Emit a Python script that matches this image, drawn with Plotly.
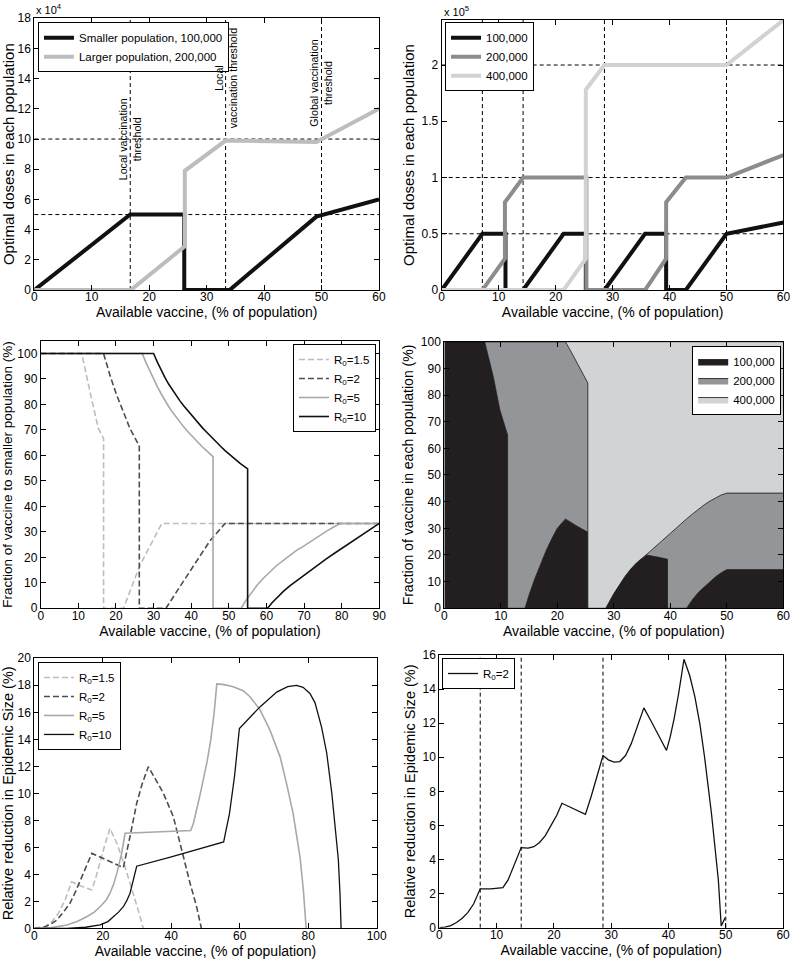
import plotly.graph_objects as go

FONT = "Liberation Sans, Arial, Helvetica, sans-serif"

# ---------------- Panel A: two populations, optimal doses ----------------
a_small_x = [0, 16.7, 26.1, 26.1, 34.0, 49.1, 60]
a_small_y = [0, 50000, 50000, 0, 0, 48600, 60000]
a_large_x = [0, 16.8, 26.2, 26.2, 33.3, 49.1, 60]
a_large_y = [0, 0, 29000, 79000, 99000, 98000, 120000]
a_vlines = [16.7, 33.3, 50]
a_hlines = [50000, 100000]
a_yticks = [0, 20000, 40000, 60000, 80000, 100000, 120000, 140000, 160000, 180000]
a_yticktext = ["0", "2", "4", "6", "8", "10", "12", "14", "16", "18"]
a_notes_x = [16.7, 33.3, 50]
a_notes_y = [100000, 140000, 137000]
a_notes_text = ["Local vaccination<br>threshold", "Local<br>vaccination threshold",
                "Global vaccination<br>threshold"]

# ---------------- Panel B: three populations, optimal doses ----------------
b_100_x = [0, 7.14, 11.2, 11.2, 14.29, 21.4, 25.3, 25.3, 28.57, 35.7, 39.4, 39.4, 42.86, 50, 60]
b_100_y = [0, 50000, 50000, 0, 0, 50000, 50000, 0, 0, 50000, 50000, 0, 0, 50000, 60000]
b_200_x = [0, 7.14, 11.1, 11.1, 14.29, 25.4, 25.4, 35.7, 39.4, 39.4, 42.86, 50, 60]
b_200_y = [0, 0, 28000, 78000, 100000, 100000, 0, 0, 28000, 78000, 100000, 100000, 120000]
b_400_x = [0, 21.4, 25.3, 25.3, 28.57, 50, 60]
b_400_y = [0, 0, 28000, 178000, 200000, 200000, 240000]
b_vlines = [7.14, 14.29, 28.57, 50]
b_hlines = [50000, 100000, 200000]
b_yticks = [0, 50000, 100000, 150000, 200000]
b_yticktext = ["0", "0.5", "1", "1.5", "2"]

# ---------------- Panel C: fraction to smaller population ----------------
c_r15_x = [0, 10.9, 13.1, 15.3, 16.7, 16.7, 22.0, 26.4, 32.2, 90]
c_r15_y = [100, 100, 85, 70.6, 66.7, 0, 0, 17, 33.3, 33.3]
c_r2_x = [0, 16.7, 18.5, 20.2, 22.0, 23.7, 25.9, 26.2, 26.2, 33.3, 37, 41, 45, 49, 90]
c_r2_y = [100, 100, 91, 83.6, 77, 70.6, 64.5, 64, 0, 0, 8.5, 17.5, 26.5, 33.3, 33.3]
c_r5_x = [0, 27, 28, 29, 30, 31, 32, 33, 34, 35, 36, 37, 38, 39, 40, 41, 42, 43, 44, 45.8, 45.8,
          53.3, 54.5, 56, 57.5, 59.2, 61, 62.5, 64.5, 66.3, 68, 70, 72.5, 74, 76, 78, 79.6, 90]
c_r5_y = [100, 100, 96.3, 93, 89.8, 87, 84.2, 81.5, 79.2, 77, 75, 73, 71.2, 69.5, 67.9, 66.3, 64.8,
          63.3, 62, 59.5, 0, 0, 3, 6, 9, 11.8, 14.4, 16.5, 18.8, 20.9, 22.7, 24.5, 27, 28.4, 30.3, 32, 33.3, 33.3]
c_r10_x = [0, 30, 31, 32, 33, 34, 35, 36, 37, 38, 39, 40, 41, 42, 43, 44, 45, 46, 47, 48, 49, 50, 51, 52,
           53, 54, 55, 55, 60.3, 61.5, 63, 64.5, 66.3, 68, 70, 72.5, 74, 76, 78, 80, 82.5, 84.9, 87.5, 90]
c_r10_y = [100, 100, 96.6, 93.5, 90.6, 88, 85.7, 83.5, 81.4, 79.5, 77.7, 76, 74.2, 72.5, 70.8, 69.3,
           67.7, 66.2, 64.7, 63.3, 61.9, 60.6, 59.3, 58, 56.9, 55.8, 54.7, 0, 0, 2.2, 4.5, 6.6, 8.9, 10.8,
           13, 15.8, 17.3, 19.5, 21.5, 23.5, 26, 28.3, 30.8, 33.3]

# ---------------- Panel D: fraction of vaccine in each population ----------------
d_x = [0, 7.14, 8.65, 9.83, 11.2, 11.2, 14.29, 15, 16, 17, 18, 19, 20, 21.43, 22.5, 23.5, 24.5, 25.4,
       25.4, 28.57, 30, 31, 32, 33, 34, 35.7, 37, 38, 39.5, 39.5, 41, 42.86, 44, 45, 46, 47, 48, 49, 50, 60]
d_f100 = [100, 100, 87, 74.4, 65, 0, 0, 5, 11, 16.5, 21.5, 26, 30, 33.5, 32, 30.8, 29.6, 28.5,
          0, 0, 5.5, 9, 12, 14.7, 17, 20, 19.6, 19.1, 18.4, 0, 0, 0, 3.5, 6, 8, 10, 11.8, 13.3, 14.5, 14.5]
d_f200 = [0, 0, 13, 25.6, 35, 100, 100, 95, 89, 83.5, 78.5, 74, 70, 66.5, 64, 61.2, 58.4, 56,
          0, 0, 0, 0, 0, 0, 0, 0, 2.9, 5.4, 8.9, 27.3, 30.2, 33.5, 32, 31.2, 30.8, 30.2, 29.7, 29.2, 28.7, 28.7]
d_f400 = [0, 0, 0, 0, 0, 0, 0, 0, 0, 0, 0, 0, 0, 0, 4, 8, 12, 15.5,
          100, 100, 94.5, 91, 88, 85.3, 83, 80, 77.5, 75.5, 72.7, 72.7, 69.8, 66.5, 64.5, 62.8, 61.2, 59.8, 58.5, 57.5, 56.8, 56.8]

# ---------------- Panel E: relative reduction, two populations ----------------
e_r15_x = [0, 3, 5, 7, 9, 10.9, 13, 15, 16.8, 18, 19.2, 20.5, 22.1, 24.1, 26.5, 28.9, 30.9, 31.8]
e_r15_y = [0, 0.1, 0.45, 1.1, 2.1, 3.45, 3.2, 3.0, 2.84, 3.8, 5.0, 6.1, 7.4, 6.3, 4.56, 2.6, 0.86, 0]
e_r2_x = [0, 3, 5, 6.5, 8.5, 10.4, 12, 13.8, 15.3, 16.8, 21.1, 26.0, 27.95, 29.9, 31.5, 33.3, 35.5,
          37.7, 40.6, 43.0, 45.5, 47.4, 48.4, 48.8]
e_r2_y = [0, 0.1, 0.35, 0.6, 1.2, 1.85, 2.7, 3.8, 4.7, 5.55, 5.06, 4.5, 6.8, 9.26, 10.7, 11.97, 11.0,
          10.0, 8.27, 5.8, 3.33, 1.6, 0.5, 0]
e_r5_x = [0, 5, 9.5, 12.5, 15.3, 17.5, 19.2, 21, 22.1, 23.2, 24.1, 25.5, 26.5, 35, 45.7, 46.5, 47.5,
          48.5, 49.5, 50.5, 51.5, 52.5, 53.3, 55.5, 58.1, 61, 63.0, 65.9, 68.8, 71.8, 73.7, 75.6, 77.6, 78.6, 79.4]
e_r5_y = [0, 0.05, 0.25, 0.5, 0.86, 1.2, 1.6, 2.1, 2.6, 3.3, 4.07, 5.55, 7.04, 7.15, 7.25, 7.8, 8.8,
          10, 11.2, 12.4, 13.9, 15.9, 18.1, 18.05, 17.9, 17.6, 17.15, 16.2, 14.7, 12.7, 10.7, 8.5, 5.3, 2.8, 0]
e_r10_x = [0, 9.5, 15, 19.2, 21.5, 23.1, 24.6, 26, 27, 27.95, 28.7, 29.4, 29.9, 40, 48.4, 55.3, 57,
           58.5, 59.9, 65.9, 70.8, 74, 76.6, 78.5, 80.5, 82.0, 83.9, 85.4, 86.9, 87.8, 88.8, 89.3, 89.6]
e_r10_y = [0, 0, 0.08, 0.25, 0.5, 0.86, 1.2, 1.6, 2.05, 2.6, 3.3, 4.07, 4.6, 5.3, 5.9, 6.4, 8.5,
           11.3, 14.8, 16.4, 17.5, 17.9, 18.0, 17.85, 17.4, 16.7, 14.9, 13.0, 10.0, 7.5, 5.1, 2.5, 0]

# ---------------- Panel F: relative reduction, three populations ----------------
f_x = [0, 1, 2, 3, 4, 5, 6, 7.14, 9, 11.1, 12, 13, 14.29, 15.5, 16.5, 17.5, 18.5, 19.5, 20.5, 21.4,
       25.5, 26.5, 27.5, 28.57, 29.5, 30.5, 31.5, 32.5, 33.5, 34.6, 35.7, 37, 38.3, 39.65, 40.3, 41.0,
       41.8, 42.7, 43.7, 44.6, 45.5, 46.3, 47.5, 48.7, 49.2, 49.5, 49.9]
f_y = [0, 0.03, 0.12, 0.3, 0.55, 0.9, 1.4, 2.28, 2.28, 2.35, 2.8, 3.6, 4.7, 4.67, 4.75, 5.0, 5.4, 6.0,
       6.6, 7.3, 6.65, 7.7, 8.8, 10.1, 9.85, 9.72, 9.75, 10.1, 10.8, 11.8, 12.9, 12.1, 11.3, 10.4, 11.2,
       12.3, 13.8, 15.75, 14.8, 13.56, 11.9, 10.0, 6.7, 2.8, 0.1, 0.3, 0.6]
f_vlines = [7.14, 14.29, 28.57, 50]

XTITLE = "Available vaccine, (% of population)"

BLACK = "#111111"
LGRAY = "#bdbdbd"
MGRAY = "#8c8c8c"
VLGRAY = "#d2d2d2"
DGRAY = "#4d4d4d"
SGRAY = "#a8a8a8"

fig = go.Figure()

# Panel A
fig.add_trace(go.Scatter(x=a_small_x, y=a_small_y, mode="lines", name="Smaller population, 100,000",
                         line=dict(color=BLACK, width=4), xaxis="x", yaxis="y", legend="legend"))
fig.add_trace(go.Scatter(x=a_large_x, y=a_large_y, mode="lines", name="Larger population, 200,000",
                         line=dict(color=LGRAY, width=4), xaxis="x", yaxis="y", legend="legend"))
# Panel B
fig.add_trace(go.Scatter(x=b_100_x, y=b_100_y, mode="lines", name="100,000",
                         line=dict(color=BLACK, width=4), xaxis="x2", yaxis="y2", legend="legend2"))
fig.add_trace(go.Scatter(x=b_200_x, y=b_200_y, mode="lines", name="200,000",
                         line=dict(color=MGRAY, width=4), xaxis="x2", yaxis="y2", legend="legend2"))
fig.add_trace(go.Scatter(x=b_400_x, y=b_400_y, mode="lines", name="400,000",
                         line=dict(color=VLGRAY, width=4), xaxis="x2", yaxis="y2", legend="legend2"))
# Panel C
DASH = "6px,3px"
fig.add_trace(go.Scatter(x=c_r15_x, y=c_r15_y, mode="lines", name="R<sub>0</sub>=1.5",
                         line=dict(color=LGRAY, width=1.6, dash=DASH), xaxis="x3", yaxis="y3", legend="legend3"))
fig.add_trace(go.Scatter(x=c_r2_x, y=c_r2_y, mode="lines", name="R<sub>0</sub>=2",
                         line=dict(color=DGRAY, width=1.6, dash=DASH), xaxis="x3", yaxis="y3", legend="legend3"))
fig.add_trace(go.Scatter(x=c_r5_x, y=c_r5_y, mode="lines", name="R<sub>0</sub>=5",
                         line=dict(color=SGRAY, width=1.6), xaxis="x3", yaxis="y3", legend="legend3"))
fig.add_trace(go.Scatter(x=c_r10_x, y=c_r10_y, mode="lines", name="R<sub>0</sub>=10",
                         line=dict(color=BLACK, width=1.6), xaxis="x3", yaxis="y3", legend="legend3"))
# Panel D (stacked areas)
d_c1 = list(d_f100)
d_c2 = [a + b for a, b in zip(d_f100, d_f200)]
d_c3 = [a + b + c for a, b, c in zip(d_f100, d_f200, d_f400)]
fig.add_trace(go.Scatter(x=d_x, y=d_c1, mode="lines", name="100,000", fill="tozeroy",
                         fillcolor="#231f20", line=dict(color="#111111", width=0.8),
                         xaxis="x4", yaxis="y4", legend="legend4"))
fig.add_trace(go.Scatter(x=d_x, y=d_c2, mode="lines", name="200,000", fill="tonexty",
                         fillcolor="#939598", line=dict(color="#111111", width=0.8),
                         xaxis="x4", yaxis="y4", legend="legend4"))
fig.add_trace(go.Scatter(x=d_x, y=d_c3, mode="lines", name="400,000", fill="tonexty",
                         fillcolor="#d1d3d4", line=dict(color="#111111", width=0.8),
                         xaxis="x4", yaxis="y4", legend="legend4"))
# Panel E
fig.add_trace(go.Scatter(x=e_r15_x, y=e_r15_y, mode="lines", name="R<sub>0</sub>=1.5",
                         line=dict(color=LGRAY, width=1.6, dash=DASH), xaxis="x5", yaxis="y5", legend="legend5"))
fig.add_trace(go.Scatter(x=e_r2_x, y=e_r2_y, mode="lines", name="R<sub>0</sub>=2",
                         line=dict(color=DGRAY, width=1.6, dash=DASH), xaxis="x5", yaxis="y5", legend="legend5"))
fig.add_trace(go.Scatter(x=e_r5_x, y=e_r5_y, mode="lines", name="R<sub>0</sub>=5",
                         line=dict(color=SGRAY, width=1.6), xaxis="x5", yaxis="y5", legend="legend5"))
fig.add_trace(go.Scatter(x=e_r10_x, y=e_r10_y, mode="lines", name="R<sub>0</sub>=10",
                         line=dict(color=BLACK, width=1.3), xaxis="x5", yaxis="y5", legend="legend5"))
# Panel F
fig.add_trace(go.Scatter(x=f_x, y=f_y, mode="lines", name="R<sub>0</sub>=2",
                         line=dict(color=BLACK, width=1.3), xaxis="x6", yaxis="y6", legend="legend6"))

# Dashed reference lines
shapes = []
def vline(xv, xa, ya):
    shapes.append(dict(type="line", xref=xa, yref=ya + " domain", x0=xv, x1=xv, y0=0, y1=1,
                       line=dict(color="black", width=1, dash="4px,3px"), layer="below"))
def hline(yv, xa, ya):
    shapes.append(dict(type="line", xref=xa + " domain", yref=ya, x0=0, x1=1, y0=yv, y1=yv,
                       line=dict(color="black", width=1, dash="4px,3px"), layer="below"))
for v in a_vlines:
    vline(v, "x", "y")
for h in a_hlines:
    hline(h, "x", "y")
for v in b_vlines:
    vline(v, "x2", "y2")
for h in b_hlines:
    hline(h, "x2", "y2")
for v in f_vlines:
    vline(v, "x6", "y6")

annotations = []
for xv, yv, t in zip(a_notes_x, a_notes_y, a_notes_text):
    annotations.append(dict(x=xv, y=yv, xref="x", yref="y", text=t, textangle=-90, showarrow=False,
                            font=dict(size=10.7, color="black", family=FONT), align="center"))
annotations.append(dict(x=0.0434, y=0.9812, xref="paper", yref="paper", xanchor="left", yanchor="bottom",
                        text="x 10<sup>4</sup>", showarrow=False, font=dict(size=11, color="black")))
annotations.append(dict(x=0.5584, y=0.9794, xref="paper", yref="paper", xanchor="left", yanchor="bottom",
                        text="x 10<sup>5</sup>", showarrow=False, font=dict(size=11, color="black")))


def xax(domain, rng, anchor, dtick, title_size=14):
    return dict(domain=domain, range=rng, anchor=anchor, dtick=dtick, tick0=0, automargin=False,
                showline=True, linecolor="black", linewidth=1, mirror="ticks",
                ticks="inside", ticklen=5, tickcolor="black", showgrid=False, zeroline=False,
                tickfont=dict(size=12, color="black"), ticklabelstandoff=-4,
                title=dict(text=XTITLE, font=dict(size=title_size, color="black"), standoff=0))


def yax(domain, rng, anchor, title, dtick=None, tickvals=None, ticktext=None, title_size=14):
    d = dict(domain=domain, range=rng, anchor=anchor, automargin=False,
             showline=True, linecolor="black", linewidth=1, mirror="ticks",
             ticks="inside", ticklen=5, tickcolor="black", showgrid=False, zeroline=False,
             tickfont=dict(size=12, color="black"),
             title=dict(text=title, font=dict(size=title_size, color="black"), standoff=3))
    if tickvals is not None:
        d["tickmode"] = "array"
        d["tickvals"] = tickvals
        d["ticktext"] = ticktext
    else:
        d["dtick"] = dtick
        d["tick0"] = 0
    return d


def leg(x, y, xanchor="left"):
    return dict(x=x, y=y, xanchor=xanchor, yanchor="top", bgcolor="white", bordercolor="black",
                borderwidth=1, font=dict(size=11.5, color="black", family=FONT), tracegroupgap=0,
                itemwidth=30, traceorder="normal")


fig.update_layout(
    width=791, height=962, autosize=False, margin=dict(l=0, r=0, t=0, b=0, autoexpand=False),
    paper_bgcolor="white", plot_bgcolor="white",
    font=dict(family=FONT, color="black"),
    xaxis=xax([0.0434, 0.4791], [0, 60], "y", 10),
    yaxis=yax([0.6985, 0.9810], [0, 180000], "x", "Optimal doses in each population",
              tickvals=a_yticks, ticktext=a_yticktext, title_size=15),
    xaxis2=xax([0.5584, 0.9905], [0, 60], "y2", 10),
    yaxis2=yax([0.6985, 0.9792], [0, 240000], "x2", "Optimal doses in each population",
               tickvals=b_yticks, ticktext=b_yticktext, title_size=15),
    xaxis3=xax([0.0515, 0.4795], [0, 90], "y3", 10),
    yaxis3=yax([0.3677, 0.6458], [0, 105], "x3", "Fraction of vaccine to smaller population (%)",
               tickvals=[0, 10, 20, 30, 40, 50, 60, 70, 80, 90, 100],
               ticktext=["0", "10", "20", "30", "40", "50", "60", "70", "80", "90", "100"],
               title_size=13.5),
    xaxis4=xax([0.5617, 0.9903], [0, 60], "y4", 10),
    yaxis4=yax([0.3677, 0.6448], [0, 100], "x4", "Fraction of vaccine in each population (%)",
               dtick=10, title_size=14),
    xaxis5=xax([0.0434, 0.4762], [0, 100], "y5", 20),
    yaxis5=yax([0.0350, 0.3157], [0, 20], "x5", "Relative reduction in Epidemic Size (%)",
               dtick=2, title_size=14.5),
    xaxis6=xax([0.5554, 0.9900], [0, 60], "y6", 10),
    yaxis6=yax([0.0357, 0.3191], [0, 16], "x6", "Relative reduction in Epidemic Size (%)",
               dtick=2, title_size=14.5),
    legend=leg(0.048, 0.977),
    legend2=leg(0.5626, 0.977),
    legend3=leg(0.4753, 0.6424, "right"),
    legend4=leg(0.9876, 0.6403, "right"),
    legend5=leg(0.048, 0.3119),
    legend6=leg(0.5588, 0.316),
    shapes=shapes,
    annotations=annotations,
    showlegend=True,
)

fig.write_html("out.html", config={"displayModeBar": False, "responsive": False},
               post_script="document.body.style.margin='0';document.body.style.overflow='hidden';")
